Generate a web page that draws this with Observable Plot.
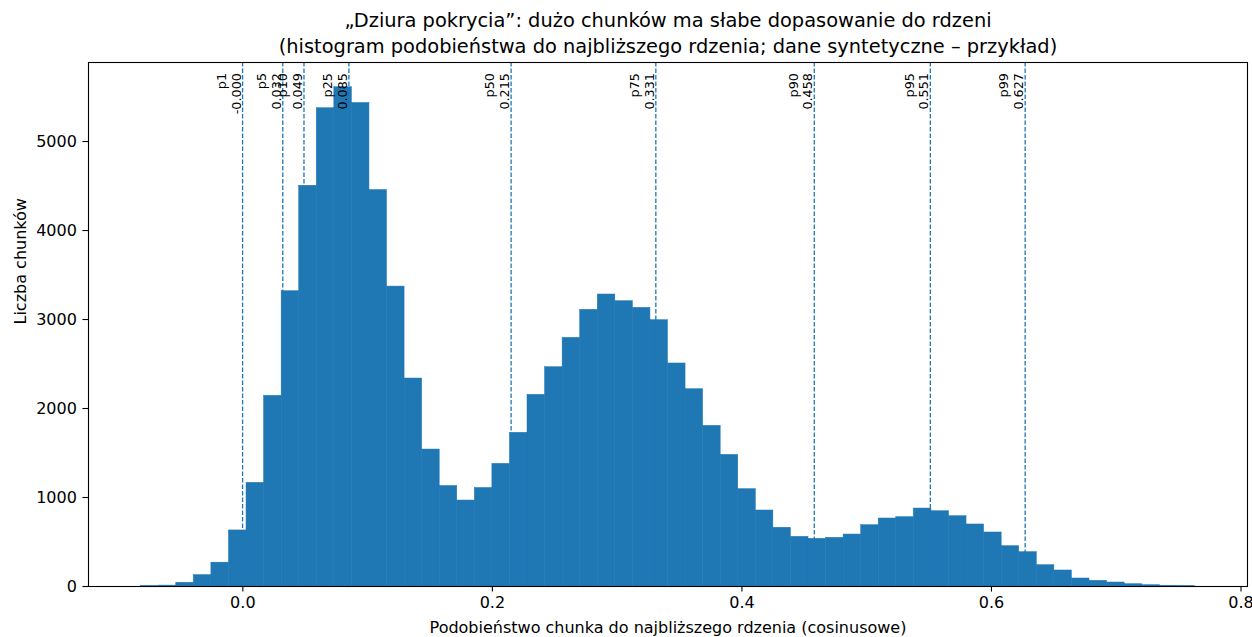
<!DOCTYPE html>
<html><head><meta charset="utf-8">
<script src="https://cdn.jsdelivr.net/npm/d3@7"></script>
<script src="https://cdn.jsdelivr.net/npm/@observablehq/plot@0.6"></script>
<style>
body{margin:0;background:#fff;}
svg{display:block;font-family:"DejaVu Sans",sans-serif;overflow:visible;}
</style>
</head><body><div id="chart"></div>
<script>
// histogram counts (60 equal-width bins)
const counts = [3, 10, 42, 128, 268, 630, 1165, 2143, 3318, 4503,
  5374, 5610, 5433, 4455, 3370, 2337, 1539, 1129, 966, 1107,
  1378, 1727, 2154, 2464, 2794, 3109, 3281, 3206, 3131, 2993,
  2506, 2217, 1805, 1479, 1094, 854, 660, 558, 536, 547,
  584, 689, 764, 779, 876, 846, 790, 697, 607, 453,
  386, 240, 180, 90, 64, 45, 26, 15, 7, 3];
const binStart = -0.0815;
const binWidth = 0.014075;

const pctNames = ["p1", "p5", "p10", "p25", "p50", "p75", "p90", "p95", "p99"];
const pctValues = [-0.0002, 0.032, 0.049, 0.085, 0.215, 0.331, 0.458, 0.551, 0.627];

const xTicks = [0.0, 0.2, 0.4, 0.6, 0.8];
const yTicks = [0, 1000, 2000, 3000, 4000, 5000];

const title1 = "„Dziura pokrycia”: dużo chunków ma słabe dopasowanie do rdzeni";
const title2 = "(histogram podobieństwa do najbliższego rdzenia; dane syntetyczne – przykład)";
const xLabel = "Podobieństwo chunka do najbliższego rdzenia (cosinusowe)";
const yLabel = "Liczba chunków";

const bins = counts.map((c, i) => ({x1: binStart + i * binWidth, x2: binStart + (i + 1) * binWidth, count: c}));
const pcts = pctNames.map((n, i) => ({name: n, value: pctValues[i], label: n + "\n" + pctValues[i].toFixed(3)}));

const yMax = 5888;
const xDomain = [-0.1237, 0.8052];
const C0 = "#1f77b4";

const chart = Plot.plot({
  width: 1252,
  height: 637,
  marginLeft: 88,
  marginRight: 5,
  marginTop: 62,
  marginBottom: 51,
  style: {fontFamily: "DejaVu Sans", fontSize: "16px", color: "#000", background: "#fff", overflow: "visible"},
  x: {domain: xDomain},
  y: {domain: [0, yMax]},
  marks: [
    Plot.rectY(bins, {x1: "x1", x2: "x2", y: "count", fill: C0, stroke: C0, strokeWidth: 0.5, inset: 0}),
    Plot.ruleX(pcts, {x: "value", stroke: C0, strokeWidth: 1.3, strokeDasharray: "4.5,2"}),
    Plot.text(pcts, {
      x: "value", y: d => yMax * 0.98, text: "label", rotate: -90,
      textAnchor: "end", lineAnchor: "bottom", lineHeight: 1.15,
      fontSize: 12.8, fill: "#000", dx: -2
    }),
    Plot.frame({stroke: "#000", strokeWidth: 1.1}),
    Plot.axisX({ticks: xTicks, tickFormat: d => d.toFixed(1), tickSize: 5.6, tickPadding: 5, fontSize: 16, label: null, stroke: "#000", strokeWidth: 1.1}),
    Plot.axisY({ticks: yTicks, tickFormat: d => String(d), tickSize: 5.6, tickPadding: 6, fontSize: 16, label: null, stroke: "#000", strokeWidth: 1.1}),
    Plot.text([xLabel], {frameAnchor: "bottom", dy: 41, fontSize: 16, fill: "#000", lineAnchor: "middle"}),
    Plot.text([yLabel], {frameAnchor: "left", dx: -68, rotate: -90, fontSize: 16, fill: "#000", lineAnchor: "middle"}),
    Plot.text([title1], {frameAnchor: "top", dy: -42, fontSize: 19.4, fill: "#000", lineAnchor: "middle"}),
    Plot.text([title2], {frameAnchor: "top", dy: -16, fontSize: 19.4, fill: "#000", lineAnchor: "middle"})
  ]
});
document.getElementById("chart").appendChild(chart);
</script>
</body></html>
